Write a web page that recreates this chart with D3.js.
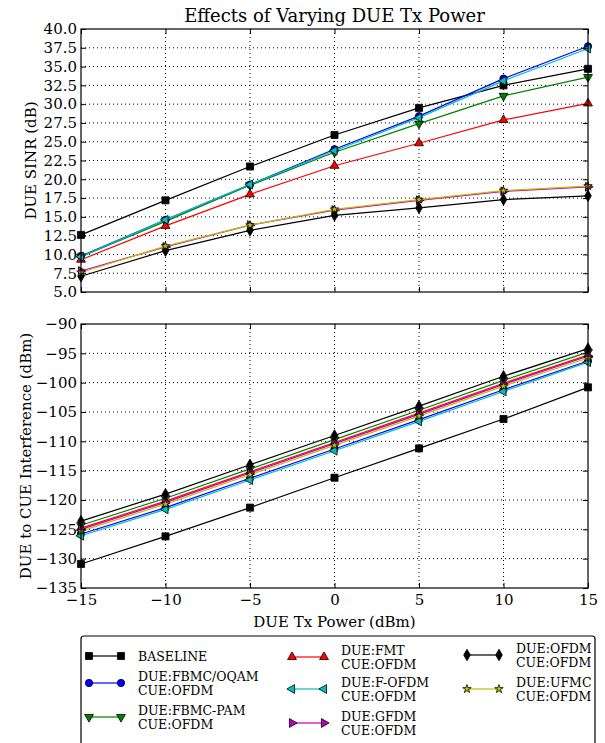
<!DOCTYPE html>
<html>
<head>
<meta charset="utf-8">
<script src="https://cdn.jsdelivr.net/npm/d3@7"></script>
<style>
  body { margin: 0; background: #fff; }
  svg text { font-family: "DejaVu Serif", serif; fill: #000; }
  .grid line { stroke: #000; stroke-dasharray: 1,3; stroke-width: 1; }
  .axis path { display: none; }
  .axis line { stroke: #000; }
</style>
</head>
<body>
<div id="chart"></div>
<script>
// x values (DUE Tx power, dBm)
var txPower = [-15, -10, -5, 0, 5, 10, 15];

// series names, as in legend (first line, second line)
var seriesNames = [
	["BASELINE", ""],
	["DUE:FBMC/OQAM", "CUE:OFDM"],
	["DUE:FBMC-PAM", "CUE:OFDM"],
	["DUE:FMT", "CUE:OFDM"],
	["DUE:F-OFDM", "CUE:OFDM"],
	["DUE:GFDM", "CUE:OFDM"],
	["DUE:OFDM", "CUE:OFDM"],
	["DUE:UFMC", "CUE:OFDM"]
];

// DUE SINR (dB)
var sinrBaseline = [12.6, 17.2, 21.7, 25.9, 29.5, 32.5, 34.7];
var sinrFbmcOqam = [9.8, 14.6, 19.3, 24.0, 28.4, 33.4, 37.7];
var sinrFbmcPam  = [9.7, 14.4, 19.2, 23.6, 27.4, 31.1, 33.6];
var sinrFmt      = [9.3, 13.8, 18.0, 21.8, 24.8, 27.9, 30.1];
var sinrFofdm    = [9.7, 14.6, 19.3, 23.8, 28.2, 33.1, 37.4];
var sinrGfdm     = [7.8, 11.0, 13.9, 15.9, 17.2, 18.4, 19.0];
var sinrOfdm     = [7.1, 10.5, 13.2, 15.2, 16.2, 17.3, 17.8];
var sinrUfmc     = [7.6, 11.1, 13.9, 16.0, 17.3, 18.5, 19.1];

// DUE to CUE interference (dBm)
var intBaseline = [-130.9, -126.2, -121.3, -116.2, -111.2, -106.2, -100.8];
var intFbmcOqam = [-125.8, -121.3, -116.3, -111.3, -106.3, -101.2, -96.3];
var intFbmcPam  = [-124.3, -119.7, -114.7, -109.7, -104.7, -99.6, -94.8];
var intFmt      = [-124.8, -120.2, -115.2, -110.2, -105.2, -100.1, -95.3];
var intFofdm    = [-126.1, -121.6, -116.6, -111.6, -106.6, -101.5, -96.5];
var intGfdm     = [-125.0, -120.4, -115.4, -110.4, -105.4, -100.3, -95.5];
var intOfdm     = [-123.6, -119.0, -114.0, -109.0, -104.0, -98.9, -94.2];
var intUfmc     = [-125.3, -120.7, -115.7, -110.7, -105.7, -100.6, -95.8];

var sinrTicks = [5, 7.5, 10, 12.5, 15, 17.5, 20, 22.5, 25, 27.5, 30, 32.5, 35, 37.5, 40];
var intTicks = [-135, -130, -125, -120, -115, -110, -105, -100, -95, -90];
var xTicks = [-15, -10, -5, 0, 5, 10, 15];

var sinrSeries = [sinrBaseline, sinrFbmcOqam, sinrFbmcPam, sinrFmt, sinrFofdm, sinrGfdm, sinrOfdm, sinrUfmc];
var intSeries = [intBaseline, intFbmcOqam, intFbmcPam, intFmt, intFofdm, intGfdm, intOfdm, intUfmc];

// styles per series
var colors = ["#000000", "#0000ff", "#008000", "#ff0000", "#00bfbf", "#bf00bf", "#000000", "#bfbf00"];
var symbols = [
	{type: d3.symbolSquare, size: 50, rot: 0},
	{type: d3.symbolCircle, size: 42, rot: 0},
	{type: d3.symbolTriangle, size: 34, rot: 180},
	{type: d3.symbolTriangle, size: 34, rot: 0},
	{type: d3.symbolTriangle, size: 34, rot: -90},
	{type: d3.symbolTriangle, size: 34, rot: 90},
	{type: d3.symbolDiamond, size: 38, rot: 0},
	{type: d3.symbolStar, size: 22, rot: 0}
];

var width = 605, height = 743;
var margin = {left: 81, right: 17};
var plotW = width - margin.left - margin.right;

var svg = d3.select("#chart").append("svg")
	.attr("width", width)
	.attr("height", height);

var x = d3.scaleLinear().domain([-15, 15]).range([0, plotW]);
var fmtMinus = function(d) { return d < 0 ? "\u2212" + Math.abs(d) : String(d); };

function drawPanel(top, h, yDomain, yTicks, yFormat, data, yLabel, showX) {
	var y = d3.scaleLinear().domain(yDomain).range([h, 0]);
	var g = svg.append("g").attr("transform", "translate(" + margin.left + "," + top + ")");

	// grid
	g.append("g").attr("class", "grid")
		.selectAll("line.v").data(xTicks.slice(1, -1)).enter().append("line")
		.attr("x1", function(d) { return x(d); }).attr("x2", function(d) { return x(d); })
		.attr("y1", 0).attr("y2", h);
	g.append("g").attr("class", "grid")
		.selectAll("line.h").data(yTicks.slice(1, -1)).enter().append("line")
		.attr("x1", 0).attr("x2", plotW)
		.attr("y1", function(d) { return y(d); }).attr("y2", function(d) { return y(d); });

	// lines and markers
	var line = d3.line()
		.x(function(d, i) { return x(txPower[i]); })
		.y(function(d) { return y(d); });

	data.forEach(function(s, k) {
		g.append("path")
			.attr("d", line(s))
			.attr("fill", "none")
			.attr("stroke", colors[k])
			.attr("stroke-width", 1.2);
		var sym = d3.symbol().type(symbols[k].type).size(symbols[k].size);
		g.selectAll(".m" + k).data(s).enter().append("path")
			.attr("class", "m" + k)
			.attr("d", sym)
			.attr("transform", function(d, i) {
				return "translate(" + x(txPower[i]) + "," + y(d) + ") rotate(" + symbols[k].rot + ")";
			})
			.attr("fill", colors[k])
			.attr("stroke", "#000")
			.attr("stroke-width", 0.8);
	});

	// axes with inward ticks
	var yl = g.append("g").attr("class", "axis")
		.call(d3.axisLeft(y).tickValues(yTicks).tickFormat(yFormat).tickSizeInner(-5).tickPadding(4));
	yl.selectAll("text").style("font-size", "15px").attr("x", -4);
	g.append("g").attr("class", "axis").attr("transform", "translate(" + plotW + ",0)")
		.call(d3.axisRight(y).tickValues(yTicks).tickFormat("").tickSizeInner(-5));
	g.append("g").attr("class", "axis")
		.call(d3.axisTop(x).tickValues(xTicks).tickFormat("").tickSizeInner(-5));
	var xb = g.append("g").attr("class", "axis").attr("transform", "translate(0," + h + ")")
		.call(d3.axisBottom(x).tickValues(xTicks).tickFormat(showX ? fmtMinus : "").tickSizeInner(-5).tickPadding(4));
	xb.selectAll("text").style("font-size", "15px").attr("y", 6);

	// frame
	g.append("rect")
		.attr("x", 0).attr("y", 0).attr("width", plotW).attr("height", h)
		.attr("fill", "none").attr("stroke", "#000").attr("stroke-width", 1.2);

	// y label
	svg.append("text")
		.attr("transform", "translate(" + yLabel.x + "," + (top + h / 2) + ") rotate(-90)")
		.attr("text-anchor", "middle")
		.style("font-size", "15px")
		.text(yLabel.text);
}

svg.append("text")
	.attr("x", margin.left + plotW / 2).attr("y", 22)
	.attr("text-anchor", "middle")
	.style("font-size", "18px")
	.text("Effects of Varying DUE Tx Power");

drawPanel(29, 263, [5, 40], sinrTicks, d3.format(".1f"), sinrSeries, {x: 36, text: "DUE SINR (dB)"}, false);
drawPanel(324, 264, [-135, -90], intTicks, fmtMinus, intSeries, {x: 31, text: "DUE to CUE Interference (dBm)"}, true);

svg.append("text")
	.attr("x", margin.left + plotW / 2).attr("y", 627)
	.attr("text-anchor", "middle")
	.style("font-size", "15px")
	.text("DUE Tx Power (dBm)");

// legend
var leg = svg.append("g");
leg.append("rect")
	.attr("x", 81).attr("y", 636).attr("width", 514).attr("height", 118)
	.attr("rx", 3)
	.attr("fill", "#fff").attr("stroke", "#000").attr("stroke-width", 1.2);

var legPos = [
	{x: 89, y: 656}, {x: 89, y: 683}, {x: 89, y: 717},
	{x: 292, y: 657}, {x: 292, y: 689}, {x: 292, y: 723},
	{x: 467, y: 655}, {x: 467, y: 689}
];

seriesNames.forEach(function(name, k) {
	var p = legPos[k];
	var item = leg.append("g").attr("transform", "translate(" + p.x + "," + p.y + ")");
	item.append("line").attr("x1", 0).attr("x2", 32).attr("y1", 0).attr("y2", 0)
		.attr("stroke", colors[k]).attr("stroke-width", 1.2);
	var sym = d3.symbol().type(symbols[k].type).size(symbols[k].size);
	[0, 32].forEach(function(px) {
		item.append("path").attr("d", sym)
			.attr("transform", "translate(" + px + ",0) rotate(" + symbols[k].rot + ")")
			.attr("fill", colors[k]).attr("stroke", "#000").attr("stroke-width", 0.8);
	});
	var t = item.append("text").attr("x", 49).style("font-size", "12.5px");
	if (name[1] === "") {
		t.attr("y", 4.5).text(name[0]);
	} else {
		t.append("tspan").attr("x", 49).attr("y", -2.5).text(name[0]);
		t.append("tspan").attr("x", 49).attr("y", 11.5).text(name[1]);
	}
});
</script>
</body>
</html>
